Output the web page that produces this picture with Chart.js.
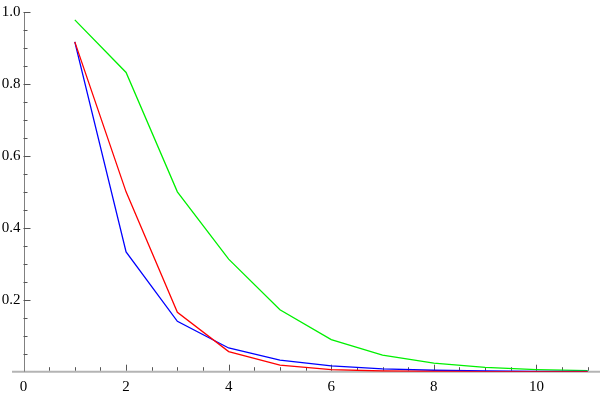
<!DOCTYPE html>
<html>
<head>
<meta charset="utf-8">
<script src="https://cdn.jsdelivr.net/npm/chart.js@4.4.1/dist/chart.umd.min.js"></script>
<style>
html,body{margin:0;padding:0;background:#fff;}
canvas{display:block;}
</style>
</head>
<body>
<canvas id="c" width="600" height="394"></canvas>
<script>
const xValues = [1, 2, 3, 4, 5, 6, 7, 8, 9, 10, 11];
const redValues = [0.917, 0.5, 0.165, 0.056, 0.018, 0.006, 0.002, 0.0007, 0.0002, 0.0001, 0.0];
const blueValues = [0.917, 0.333, 0.14, 0.066, 0.032, 0.016, 0.008, 0.004, 0.002, 0.001, 0.0005];
const greenValues = [0.978, 0.832, 0.5, 0.313, 0.172, 0.089, 0.046, 0.024, 0.012, 0.006, 0.003];
const xTickLabels = [0, 2, 4, 6, 8, 10];
const yTickLabels = [0.2, 0.4, 0.6, 0.8, 1.0];

function pts(vals) { return xValues.map((x, i) => ({ x: x, y: vals[i] })); }

const axesPlugin = {
  id: 'mmaAxes',
  beforeDatasetsDraw(chart) {
    const ctx = chart.ctx;
    const xs = chart.scales.x, ys = chart.scales.y;
    const x0 = xs.getPixelForValue(0), y0 = ys.getPixelForValue(0);
    ctx.save();
    ctx.strokeStyle = '#b4b4b4';
    ctx.lineWidth = 2;
    ctx.beginPath();
    ctx.moveTo(12, y0);
    ctx.lineTo(600, y0);
    ctx.stroke();
    ctx.strokeStyle = '#808080';
    ctx.lineWidth = 1;
    ctx.beginPath();
    ctx.moveTo(Math.round(x0) + 0.5, y0);
    ctx.lineTo(Math.round(x0) + 0.5, ys.getPixelForValue(1.0));
    ctx.stroke();
    ctx.strokeStyle = '#555';
    for (let k = 1; k <= 22; k++) {
      const v = k * 0.5;
      const px = Math.round(xs.getPixelForValue(v)) + 0.5;
      const len = (k % 4 === 0) ? 6 : 3.5;
      ctx.beginPath();
      ctx.moveTo(px, y0 - 1);
      ctx.lineTo(px, y0 - 1 - len);
      ctx.stroke();
    }
    for (let k = 1; k <= 20; k++) {
      const v = k * 0.05;
      const py = Math.round(ys.getPixelForValue(v)) + 0.5;
      const len = (k % 4 === 0) ? 7 : 4;
      ctx.beginPath();
      ctx.moveTo(x0, py);
      ctx.lineTo(x0 + len, py);
      ctx.stroke();
    }
    ctx.restore();
  }
};

const font = { family: "'Liberation Serif', serif", size: 15 };

new Chart(document.getElementById('c'), {
  type: 'line',
  data: {
    datasets: [
      { label: 'red', data: pts(redValues), borderColor: '#ff0000', borderWidth: 1.3, pointRadius: 0, tension: 0, fill: false },
      { label: 'blue', data: pts(blueValues), borderColor: '#0000ff', borderWidth: 1.3, pointRadius: 0, tension: 0, fill: false },
      { label: 'green', data: pts(greenValues), borderColor: '#00f000', borderWidth: 1.3, pointRadius: 0, tension: 0, fill: false }
    ]
  },
  options: {
    responsive: false,
    animation: false,
    devicePixelRatio: 1,
    layout: { padding: { top: 8, right: 0, left: 0, bottom: 0 } },
    plugins: { legend: { display: false }, tooltip: { enabled: false } },
    scales: {
      x: {
        type: 'linear',
        min: 0,
        max: 11.24,
        grid: { display: false, drawTicks: false },
        border: { display: false },
        afterBuildTicks: (s) => { s.ticks = xTickLabels.map(v => ({ value: v })); },
        afterFit: (s) => { s.height = 22.3; },
        ticks: { font: font, color: '#000', padding: 6, maxRotation: 0, autoSkip: false,
          callback: (v) => String(v) }
      },
      y: {
        type: 'linear',
        min: 0,
        max: 1,
        grid: { display: false, drawTicks: false },
        border: { display: false },
        afterBuildTicks: (s) => { s.ticks = yTickLabels.map(v => ({ value: v })); },
        afterFit: (s) => { s.width = 23.5; },
        ticks: { font: font, color: '#000', padding: 3, autoSkip: false,
          callback: (v) => Number(v).toFixed(1) }
      }
    }
  },
  plugins: [axesPlugin]
});
</script>
</body>
</html>
